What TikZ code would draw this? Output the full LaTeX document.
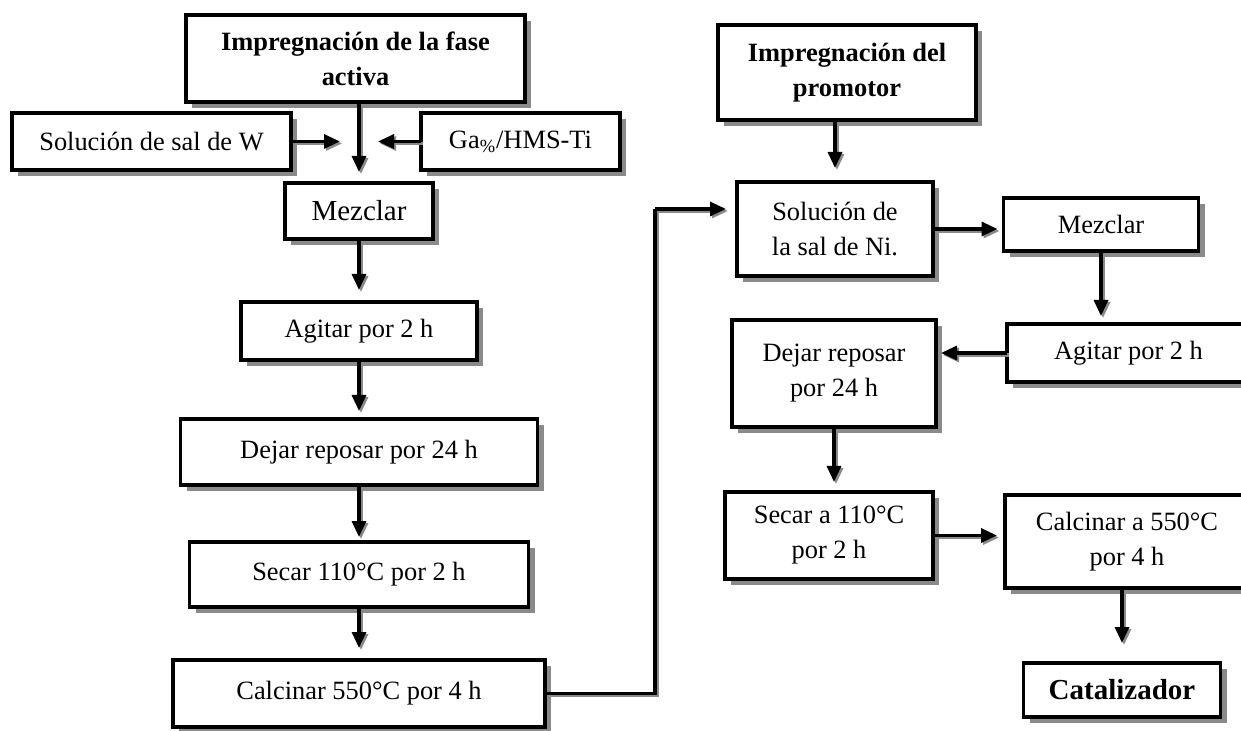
\documentclass[tikz,border=0pt]{standalone}
\usepackage{fontspec}
\setmainfont{Liberation Serif}
\usepackage{tikz}
\usetikzlibrary{arrows.meta,positioning,calc,shadows}
\definecolor{sombra}{HTML}{8A8A8A}
\tikzset{
  caja/.style={rectangle, draw=black, line width=1.8pt, fill=white, align=center,
               inner sep=0pt, outer sep=0pt, font=\fontsize{13.2}{17.5}\selectfont,
               drop shadow={shadow xshift=3pt, shadow yshift=-3pt, fill=sombra, opacity=1}},
  cajag/.style={caja, font=\fontsize{14.5}{17.5}\selectfont},
  titulo/.style={caja, font=\fontsize{13.2}{17.5}\selectfont\bfseries},
  flecha/.style={-{Triangle[length=8pt,width=7pt]}, line width=1.6pt, shorten >=4pt,
                 preaction={draw=sombra, line width=1.6pt, transform canvas={xshift=1pt,yshift=-1pt}}},
  linea/.style={line width=1.6pt,
                preaction={draw=sombra, line width=1.6pt, transform canvas={xshift=1pt,yshift=-1pt}}},
}
\begin{document}
\begin{tikzpicture}[x=0.5pt, y=-0.5pt]
        \useasboundingbox (0,0) rectangle (1241,731);
        % fase activa
        \node[titulo, minimum width=169.5pt, minimum height=43.5pt] (tit1) at (355.5,58.5)
          {Impregnación de la fase\\activa};
        \node[caja, minimum width=139.5pt, minimum height=28.5pt] (solW) at (151.5,141.5) {Solución de sal de W};
        \node[caja, minimum width=99.5pt, minimum height=28.5pt] (ga) at (520.5,141.5) {Ga\textsubscript{\%}/HMS-Ti};
        \node[cajag, minimum width=74pt, minimum height=28pt] (mez) at (359,211) {Mezclar};
        \node[caja, minimum width=118pt, minimum height=29pt, below=31.5pt of mez] (agi) {Agitar por 2 h};
        \node[caja, minimum width=178.5pt, minimum height=33pt, below=29.5pt of agi] (dej) {Dejar reposar por 24 h};
        \node[caja, minimum width=169.5pt, minimum height=32.5pt, below=28.5pt of dej] (sec) {Secar 110°C por 2 h};
        \node[caja, minimum width=186pt, minimum height=33.5pt, below=26.5pt of sec] (cal) {Calcinar 550°C por 4 h};
        % promotor
        \node[titulo, minimum width=129pt, minimum height=47.5pt] (tit2) at (847,72.5)
          {Impregnación del\\promotor};
        \node[caja, minimum width=98pt, minimum height=47pt] (solNi) at (835,229) {Solución de\\la sal de Ni.};
        \node[caja, minimum width=97.5pt, minimum height=26.5pt] (mezR) at (1101,224.5) {Mezclar};
        \node[caja, minimum width=121.5pt, minimum height=29pt] (agiR) at (1128.5,353) {Agitar por 2 h};
        \node[caja, minimum width=102pt, minimum height=53.5pt] (dejR) at (834,373.5) {Dejar reposar\\por 24 h};
        \node[caja, minimum width=104pt, minimum height=43.5pt] (secR) at (829,535.5) {Secar a 110°C\\por 2 h};
        \node[caja, minimum width=122pt, minimum height=46.5pt] (calR) at (1127,541.5) {Calcinar a 550°C\\por 4 h};
        \node[cajag, font=\fontsize{14.5}{17.5}\selectfont\bfseries, minimum width=98.5pt, minimum height=27pt] (cat) at (1122,690) {Catalizador};

        \coordinate (junta) at (mez.north |- solW.east);
        \coordinate (codo) at (655,209);
        \draw[flecha, shorten >=5.5pt] (mez.north |- tit1.south) -- (mez.north);
        \draw[flecha, shorten >=9.5pt] (solW.east) -- (junta);
        \draw[flecha, shorten >=9.5pt] (ga.west) -- (junta);
        \draw[flecha, shorten >=6pt] (mez) -- (agi);
        \draw[flecha] (agi) -- (dej);
        \draw[flecha, shorten >=2.5pt] (dej) -- (sec);
        \draw[flecha, shorten >=6pt] (sec) -- (cal);
        \draw[linea] (cal.east) -| (codo);
        \draw[flecha, shorten >=5.5pt] (codo) -- (codo -| solNi.west);
        \draw[flecha, shorten >=7pt] (solNi.north |- tit2.south) -- (solNi.north);
        \draw[flecha, shorten >=3pt] (solNi.east) -- (solNi.east -| mezR.west);
        \draw[flecha] (mezR.south) -- (mezR.south |- agiR.north);
        \draw[flecha, shorten >=2.5pt] (agiR.west) -- (agiR.west -| dejR.east);
        \draw[flecha, shorten >=5pt] (dejR.south) -- (dejR.south |- secR.north);
        \draw[flecha] (secR.east) -- (secR.east -| calR.west);
        \draw[flecha, shorten >=10pt] (cat.north |- calR.south) -- (cat.north);
      \end{tikzpicture}
\end{document}
